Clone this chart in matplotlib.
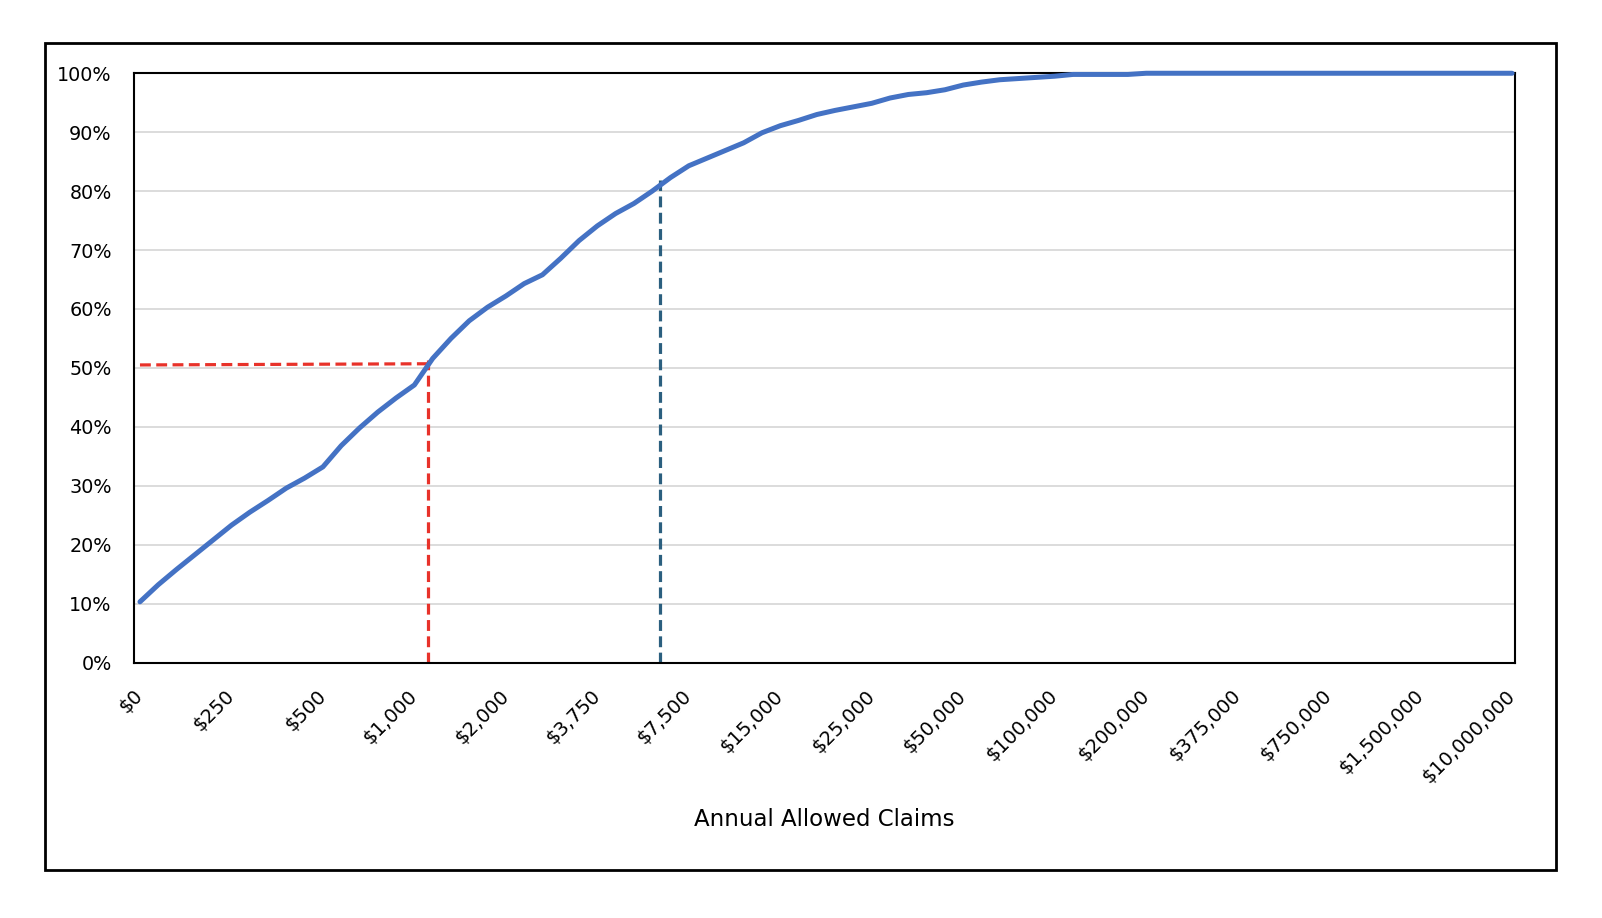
import matplotlib
matplotlib.use("Agg")
import matplotlib.pyplot as plt
from matplotlib.patches import Rectangle

# -------- dados --------
# limites de claims (um ponto a cada 1/5 do intervalo entre rótulos)
claims = [
    0, 50, 100, 150, 200,
    250, 300, 350, 400, 450,
    500, 600, 700, 800, 900,
    1000, 1200, 1400, 1600, 1800,
    2000, 2350, 2700, 3050, 3400,
    3750, 4500, 5250, 6000, 6750,
    7500, 9000, 10500, 12000, 13500,
    15000, 17000, 19000, 21000, 23000,
    25000, 30000, 35000, 40000, 45000,
    50000, 60000, 70000, 80000, 90000,
    100000, 120000, 140000, 160000, 180000,
    200000, 235000, 270000, 305000, 340000,
    375000, 450000, 525000, 600000, 675000,
    750000, 900000, 1050000, 1200000, 1350000,
    1500000, 3200000, 4900000, 6600000, 8300000,
    10000000,
]
# % acumulado de membros
cum_pct = [
    10.3, 13.2, 15.8, 18.3, 20.8,
    23.3, 25.5, 27.5, 29.6, 31.3,
    33.2, 36.8, 39.8, 42.5, 44.9,
    47.1, 51.6, 55.0, 58.0, 60.3,
    62.2, 64.3, 65.8, 68.6, 71.6,
    74.1, 76.2, 77.9, 80.0, 82.3,
    84.3, 85.6, 86.9, 88.2, 89.9,
    91.1, 92.0, 93.0, 93.7, 94.3,
    94.9, 95.8, 96.4, 96.7, 97.2,
    98.0, 98.5, 98.9, 99.1, 99.3,
    99.5, 99.8, 99.8, 99.8, 99.8,
    100, 100, 100, 100, 100,
    100, 100, 100, 100, 100,
    100, 100, 100, 100, 100,
    100, 100, 100, 100, 100,
    100,
]
LABEL_EVERY = 5

# linhas de referência (posição em unidades de categoria)
median_pos = 15.72
median_pct = 50.5
median_top = 51.3
p80_pos = 28.43
p80_top = 81.9
# -----------------------

labels = [f"${c:,}" for c in claims]
xs = list(range(len(claims)))

fig = plt.figure(figsize=(16.02, 9.18), dpi=100)
ax = fig.add_axes([0.0836, 0.2783, 0.9457 - 0.0836, 0.9202 - 0.2783])

# moldura externa
fig.patches.append(Rectangle((0.0281, 0.0523), 0.9713 - 0.0281, 0.9532 - 0.0523,
                             transform=fig.transFigure, fill=False,
                             edgecolor="black", linewidth=2))

ax.set_ylim(0, 100)
ax.set_xlim(-0.33, len(claims) - 1 + 0.16)
ax.set_yticks(range(0, 101, 10))
ax.set_yticklabels([f"{v}%" for v in range(0, 101, 10)], fontsize=13.8)
ax.yaxis.grid(True, color="#D9D9D9", linewidth=1.3)
ax.set_axisbelow(True)
ax.tick_params(axis="y", length=0, pad=16)

ax.set_xticks(xs[::LABEL_EVERY])
ax.set_xticklabels(labels[::LABEL_EVERY], rotation=45, ha="right", va="center",
                   rotation_mode="anchor", fontsize=14)
ax.tick_params(axis="x", length=0, pad=22)

for s in ax.spines.values():
    s.set_linewidth(1.5)
    s.set_color("black")

# referências
dash = (0, (3.4, 1.7))
ax.plot([0, median_pos], [median_pct, median_pct + 0.2], color="#E8322A",
        linewidth=2.3, linestyle=dash, zorder=2)
ax.plot([median_pos, median_pos], [0, median_top], color="#E8322A",
        linewidth=2.3, linestyle=dash, zorder=2)
ax.plot([p80_pos, p80_pos], [0, p80_top], color="#2B5F7F",
        linewidth=2.3, linestyle=dash, zorder=2)

ax.plot(xs, cum_pct, color="#4472C4", linewidth=3.6, solid_capstyle="round",
        solid_joinstyle="round", zorder=3, clip_on=False)

fig.text(0.5147, 0.1068, "Annual Allowed Claims", ha="center", va="center", fontsize=16.5)

plt.savefig("out.png", dpi=100)
